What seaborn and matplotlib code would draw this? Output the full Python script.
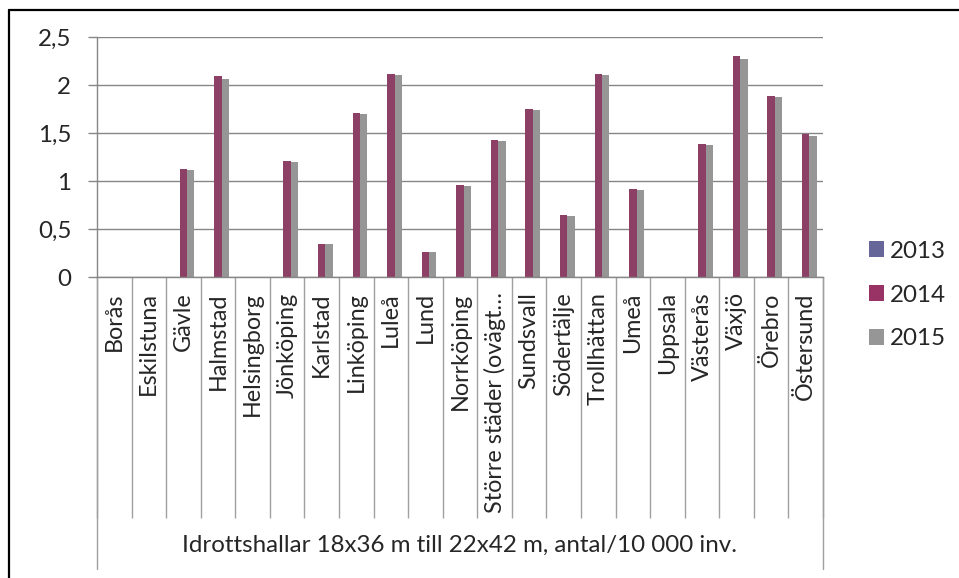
import matplotlib
matplotlib.use("Agg")
import matplotlib.pyplot as plt
import seaborn as sns
import pandas as pd
from matplotlib.patches import Patch
from matplotlib.lines import Line2D

categories = ["Borås", "Eskilstuna", "Gävle", "Halmstad", "Helsingborg", "Jönköping",
              "Karlstad", "Linköping", "Luleå", "Lund", "Norrköping",
              "Större städer (ovägt…", "Sundsvall", "Södertälje", "Trollhättan",
              "Umeå", "Uppsala", "Västerås", "Växjö", "Örebro", "Östersund"]
values_2013 = [0] * 21
values_2014 = [0, 0, 1.12, 2.09, 0, 1.21, 0.34, 1.71, 2.11, 0.26, 0.96,
               1.43, 1.75, 0.65, 2.11, 0.92, 0, 1.39, 2.30, 1.89, 1.49]
values_2015 = [0, 0, 1.11, 2.06, 0, 1.20, 0.34, 1.70, 2.10, 0.26, 0.95,
               1.42, 1.74, 0.64, 2.10, 0.91, 0, 1.38, 2.27, 1.87, 1.47]
series = ["2013", "2014", "2015"]
colors = ["#666699", "#993366", "#969696"]
y_ticks = [0, 0.5, 1, 1.5, 2, 2.5]
y_ticklabels = ["0", "0,5", "1", "1,5", "2", "2,5"]
axis_title = "Idrottshallar 18x36 m till 22x42 m, antal/10 000 inv."

rows = []
for s, vals in zip(series, [values_2013, values_2014, values_2015]):
    for c, v in zip(categories, vals):
        rows.append({"Stad": c, "År": s, "Värde": v})
df = pd.DataFrame(rows)

sns.set_style("white")
plt.rcParams["font.family"] = ["Lato", "DejaVu Sans"]
FS = 17.4

W, H = 959, 578
fig = plt.figure(figsize=(W / 100, H / 100), dpi=100)
left_px, right_px, top_px, zero_px = 97, 823, 37, 277
ax = fig.add_axes([left_px / W, 1 - zero_px / H, (right_px - left_px) / W, (zero_px - top_px) / H])

sns.barplot(data=df, x="Stad", y="Värde", hue="År", order=categories, hue_order=series,
            palette=colors, width=0.64, errorbar=None, linewidth=0, legend=False, ax=ax)

n = len(categories)
ax.set_xlim(-0.5, n - 0.5)
ax.set_ylim(0, 2.5)
ax.set_yticks(y_ticks)
ax.set_yticklabels(y_ticklabels, fontsize=FS)
ax.yaxis.grid(True, color="#868686", linewidth=1)
ax.set_axisbelow(True)
ax.set_xlabel("")
ax.set_ylabel("")

for sp in ["top", "right"]:
    ax.spines[sp].set_visible(False)
for sp in ["left", "bottom"]:
    ax.spines[sp].set_color("#868686")
    ax.spines[sp].set_linewidth(1)

ax.tick_params(axis="y", direction="out", length=6.5, width=1, color="#868686", pad=12, left=True)
ax.set_xticks(range(n))
ax.set_xticklabels(categories, rotation=90, fontsize=16.8)
ax.tick_params(axis="x", which="major", length=0, pad=11)
ax.set_xticks([i + 0.5 for i in range(-1, n)], minor=True)
ax.tick_params(axis="x", which="minor", direction="out", length=241 * 0.72, width=1,
               color="#A0A0A0", bottom=True)

ax_h = zero_px - top_px
for xb in [-0.5, n - 0.5]:
    ax.axvline(xb, ymin=-(569 - zero_px) / ax_h, ymax=0, color="#A0A0A0", lw=1, clip_on=False)

ax.text(0.5, -(545 - zero_px) / ax_h, axis_title, transform=ax.transAxes,
        ha="center", va="center", fontsize=FS)

handles = [Patch(facecolor=c, edgecolor="none", label=s) for c, s in zip(colors, series)]
fig.legend(handles=handles, loc="center left", bbox_to_anchor=(869 / W, 1 - 295 / H),
           frameon=False, fontsize=FS, handlelength=0.6, handleheight=0.6,
           handletextpad=0.25, labelspacing=0.95, borderpad=0, borderaxespad=0)

fig.add_artist(Line2D([9 / W, 1.01], [1 - 10 / H, 1 - 10 / H], color="black", lw=1.6,
                      transform=fig.transFigure))
fig.add_artist(Line2D([9 / W, 9 / W], [1 - 10 / H, -0.01], color="black", lw=1.6,
                      transform=fig.transFigure))

fig.savefig("out.png", dpi=100)
